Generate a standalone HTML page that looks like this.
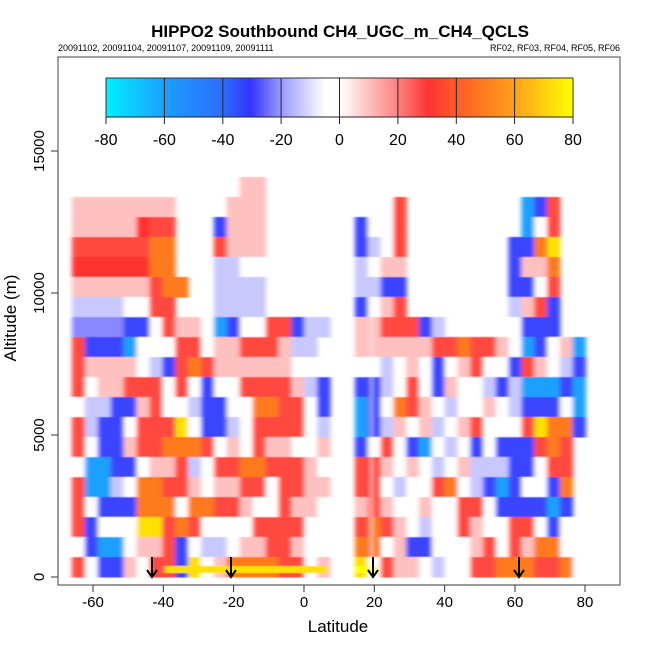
<!DOCTYPE html>
<html><head><meta charset="utf-8"><style>
body{margin:0;background:#fff;}
svg{display:block;font-family:"Liberation Sans",sans-serif;}
</style></head><body>
<svg id="s" width="650" height="650" xmlns="http://www.w3.org/2000/svg">
<defs>
<linearGradient id="cb" x1="0" x2="1" y1="0" y2="0">
<stop offset="0" stop-color="#00f0ff"/>
<stop offset="0.125" stop-color="#1aa0ff"/>
<stop offset="0.25" stop-color="#2e6cff"/>
<stop offset="0.31" stop-color="#3333ff"/>
<stop offset="0.375" stop-color="#9a9aff"/>
<stop offset="0.47" stop-color="#ffffff"/>
<stop offset="0.5" stop-color="#ffffff"/>
<stop offset="0.625" stop-color="#ff8080"/>
<stop offset="0.69" stop-color="#ff3333"/>
<stop offset="0.75" stop-color="#ff5a26"/>
<stop offset="0.875" stop-color="#ffa01a"/>
<stop offset="1" stop-color="#ffff00"/>
</linearGradient>
<filter id="bl" x="-5%" y="-5%" width="110%" height="110%"><feGaussianBlur stdDeviation="2.5 0.6"/></filter>
</defs>
<text x="340" y="37" font-size="17" font-weight="bold" text-anchor="middle">HIPPO2 Southbound CH4_UGC_m_CH4_QCLS</text>
<text x="58" y="51" font-size="9">20091102, 20091104, 20091107, 20091109, 20091111</text>
<text x="620" y="51" font-size="9" text-anchor="end">RF02, RF03, RF04, RF05, RF06</text>
<g id="heat" filter="url(#bl)"></g>
<rect x="58" y="57" width="562" height="528" fill="none" stroke="#444" stroke-width="1"/>
<!-- colorbar -->
<rect x="106" y="78" width="467" height="39" fill="url(#cb)" stroke="#333" stroke-width="1"/>
<g stroke="#222" stroke-width="1">
<line x1="164.4" y1="78" x2="164.4" y2="117"/><line x1="222.8" y1="78" x2="222.8" y2="117"/>
<line x1="281.1" y1="78" x2="281.1" y2="117"/><line x1="339.5" y1="78" x2="339.5" y2="117"/>
<line x1="397.9" y1="78" x2="397.9" y2="117"/><line x1="456.3" y1="78" x2="456.3" y2="117"/>
<line x1="514.6" y1="78" x2="514.6" y2="117"/>
<line x1="106" y1="117" x2="573" y2="117"/>
<line x1="106" y1="117" x2="106" y2="124"/><line x1="164.4" y1="117" x2="164.4" y2="124"/>
<line x1="222.8" y1="117" x2="222.8" y2="124"/><line x1="281.1" y1="117" x2="281.1" y2="124"/>
<line x1="339.5" y1="117" x2="339.5" y2="124"/><line x1="397.9" y1="117" x2="397.9" y2="124"/>
<line x1="456.3" y1="117" x2="456.3" y2="124"/><line x1="514.6" y1="117" x2="514.6" y2="124"/>
<line x1="573" y1="117" x2="573" y2="124"/>
</g>
<g font-size="16" text-anchor="middle">
<text x="106" y="145">-80</text><text x="164.4" y="145">-60</text><text x="222.8" y="145">-40</text>
<text x="281.1" y="145">-20</text><text x="339.5" y="145">0</text><text x="397.9" y="145">20</text>
<text x="456.3" y="145">40</text><text x="514.6" y="145">60</text><text x="573" y="145">80</text>
</g>
<!-- axes -->
<g stroke="#333" stroke-width="1">
<line x1="93" y1="585" x2="585" y2="585"/>
<line x1="93" y1="585" x2="93" y2="592"/><line x1="163.3" y1="585" x2="163.3" y2="592"/>
<line x1="233.6" y1="585" x2="233.6" y2="592"/><line x1="304" y1="585" x2="304" y2="592"/>
<line x1="374.3" y1="585" x2="374.3" y2="592"/><line x1="444.6" y1="585" x2="444.6" y2="592"/>
<line x1="515" y1="585" x2="515" y2="592"/><line x1="585" y1="585" x2="585" y2="592"/>
<line x1="58" y1="151" x2="58" y2="577"/>
<line x1="51" y1="577" x2="58" y2="577"/><line x1="51" y1="435" x2="58" y2="435"/>
<line x1="51" y1="293" x2="58" y2="293"/><line x1="51" y1="151" x2="58" y2="151"/>
</g>
<g font-size="15" text-anchor="middle">
<text x="93" y="607">-60</text><text x="163.3" y="607">-40</text><text x="233.6" y="607">-20</text>
<text x="304" y="607">0</text><text x="374.3" y="607">20</text><text x="444.6" y="607">40</text>
<text x="515" y="607">60</text><text x="585" y="607">80</text>
<text transform="translate(44,577) rotate(-90)">0</text>
<text transform="translate(44,435) rotate(-90)">5000</text>
<text transform="translate(44,293) rotate(-90)">10000</text>
<text transform="translate(44,151) rotate(-90)">15000</text>
</g>
<text x="338" y="632" font-size="17" text-anchor="middle">Latitude</text>
<text transform="translate(16,318) rotate(-90)" font-size="17" text-anchor="middle">Altitude (m)</text>
<g id="arr" stroke="#000" stroke-width="2" fill="none"></g>
</svg>
<script>
var C={W:"#ffffff",p:"#ffc0c0",r:"#ff4a40",R:"#ff3030",o:"#ff7a1e",y:"#ffe000",l:"#c8c8ff",L:"#8888ff",b:"#3a44ff",c:"#1aa0ff"};
var left=[
".............pp.....",
"pppppppp....ppp.....",
"pppppRrr...bppp.....",
"rrrrrroo...rppp.....",
"RRRRRRoo...llWW.....",
"pppppproo..llll.....",
"llllWWrr...llll.....",
"LLLLbbWrppWcbWWrrbll",
"rbbbcWWWrrWpprrrpll",
"rppppWlbrorppppppWWWW",
"rWpprrrWrWbWWrrrrplb",
"WllbbprWWlbbWWoorrWb",
"rlbbWrrryWbblWrrrrWl",
"rWbbprrooorWpWrppWWpp",
"WccbbWpprlWrroorrrpWW",
"rcclWoorrpWpprrWrrpp",
"rWbbboooWoorrpWWrppWW",
"rbWWWyyrorWWWWrrrrWW",
"WbccWpprbWllWpprrpWW",
"rWbbpWrrbyWpoooorrWpp"];
var right=[
"..................",
"..Wr.........cbr..",
"bWWr.........cWr..",
"blWr........bboy..",
"lWpp........bppo..",
"llbb........bbWr..",
"bWpr........lprb..",
"pprrrbl.....Wbbb..",
"pppppprrorrpWcbWpc",
"WWlWpWbWprWWbrpWlb",
"bblWrWbpWWlblcccbc",
"cbWorpWlWWpWlbbbWc",
"cblpWplWprWWWryoob",
"bWrWbcWlWbWbbbror.",
"rrpWpWlWplllbbWrr.",
"rrWlWWroWlbcbWWbo.",
"prpWWpWWrrWbbbbcb.",
"rorpWlWWrpWWrrWbW.",
"ooWpbbWWWprWrpooW.",
"yWrppWlWWrrooorroW."];
var h=document.getElementById("heat"),ns="http://www.w3.org/2000/svg";
function R(x,y,w,hh,f,par){var e=document.createElementNS(ns,"rect");e.setAttribute("x",x);e.setAttribute("y",y);e.setAttribute("width",w);e.setAttribute("height",hh);e.setAttribute("fill",f);(par||h).appendChild(e);}
function draw(g,x0,cw){for(var i=0;i<g.length;i++){var s=g[i];for(var j=0;j<s.length&&j<(x0<340?20:18);j++){var ch=s[j];if(ch=="."||!C[ch])continue;R(x0+j*cw,177+i*20,cw+0.5,20.5,C[ch]);}}}
draw(left,72,12.9);draw(right,355,12.8);
R(165,566,163,7,"#ffe000");R(355,566,22,7,"#ffff00");
R(371,300,1.2,277,"#ffffff");
var a=document.getElementById("arr");
[152,231,373,519].forEach(function(x){var p=document.createElementNS(ns,"path");p.setAttribute("d","M"+x+" 557 L"+x+" 577 M"+(x-5)+" 570 L"+x+" 577 L"+(x+5)+" 570");a.appendChild(p);});
</script>
</body></html>
